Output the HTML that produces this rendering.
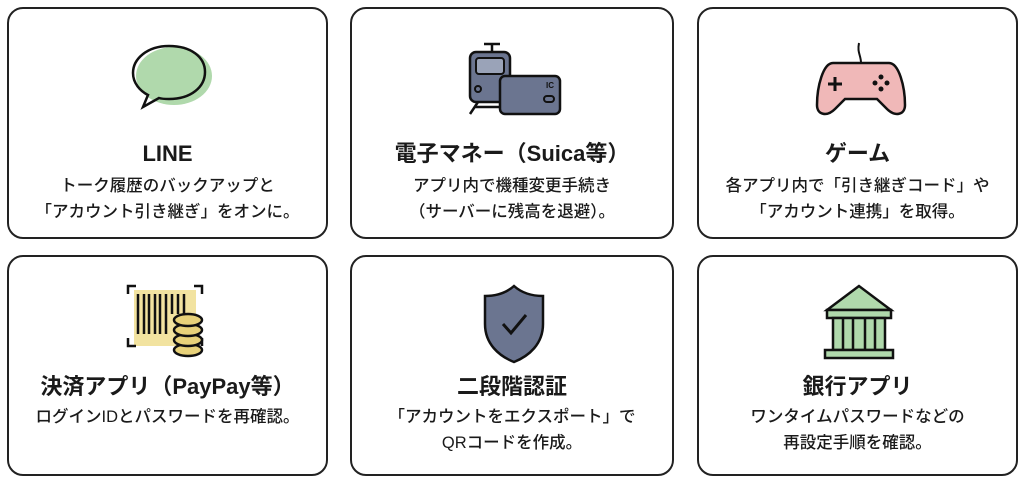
<!DOCTYPE html>
<html><head><meta charset="utf-8"><style>
body{margin:0;width:1024px;height:485px;background:#fff;position:relative;overflow:hidden;font-family:"Liberation Sans","Noto Sans CJK JP",sans-serif;color:#1a1a1a}
.c{position:absolute;border:2px solid #222;border-radius:16px;box-sizing:border-box;background:#fff}
.t{position:absolute;width:100%;text-align:center;font-weight:bold;font-size:22px;line-height:24px}
.d{position:absolute;width:100%;text-align:center;font-size:16.5px;line-height:26px;font-weight:500}
svg{position:absolute}
</style></head><body>
<div class="c" style="left:7px;top:7px;width:321px;height:232px">
<svg style="left:116px;top:30px" width="94" height="85" viewBox="0 0 90 85"><ellipse cx="47" cy="37" rx="38" ry="29" fill="#b0d9ac"/><path d="M42 7C20 7 6 20 6 34c0 10 7 18 15 22l-5 12 16-9c3 1 7 1 10 1 22 0 36-12 36-27S64 7 42 7z" fill="none" stroke="#111" stroke-width="2.5"/></svg>
<div class="t" style="top:133px">LINE</div>
<div class="d" style="top:164px">トーク履歴のバックアップと<br>「アカウント引き継ぎ」をオンに。</div></div>
<div class="c" style="left:350px;top:7px;width:324px;height:232px">
<svg style="left:112px;top:32px" width="100" height="80" viewBox="0 0 100 80"><path d="M20 3h16M28 3v8" stroke="#111" stroke-width="2.5"/><rect x="6" y="11" width="40" height="50" rx="6" fill="#6b7590" stroke="#111" stroke-width="2.5"/><rect x="12" y="17" width="28" height="16" rx="3" fill="#9aa3b8" stroke="#111" stroke-width="2"/><circle cx="14" cy="48" r="3" fill="none" stroke="#111" stroke-width="2"/><path d="M14 61l-8 12M38 61l8 12M10 66h30" stroke="#111" stroke-width="2.5"/><rect x="36" y="35" width="60" height="38" rx="5" fill="#6b7590" stroke="#111" stroke-width="2.5"/><text x="82" y="47" font-size="8" font-weight="bold" fill="#111" font-family="Liberation Sans">IC</text><rect x="80" y="55" width="10" height="6" rx="3" fill="none" stroke="#111" stroke-width="2"/></svg>
<div class="t" style="top:133px">電子マネー（Suica等）</div>
<div class="d" style="top:164px">アプリ内で機種変更手続き<br>（サーバーに残高を退避）。</div></div>
<div class="c" style="left:697px;top:7px;width:321px;height:232px">
<svg style="left:112px;top:32px" width="100" height="80" viewBox="0 0 100 80"><path d="M50 22c0-8-4-10-2-20" fill="none" stroke="#111" stroke-width="2"/><path d="M22 22h56c10 0 16 24 16 42 0 10-10 12-18 4l-10-10H34L24 68c-8 8-18 6-18-4 0-18 6-42 16-42z" fill="#f0b8b8" stroke="#111" stroke-width="2.5"/><path d="M24 36v14M17 43h14" stroke="#111" stroke-width="3"/><circle cx="70" cy="36" r="2.5" fill="#111"/><circle cx="70" cy="48" r="2.5" fill="#111"/><circle cx="64" cy="42" r="2.5" fill="#111"/><circle cx="76" cy="42" r="2.5" fill="#111"/></svg>
<div class="t" style="top:133px">ゲーム</div>
<div class="d" style="top:164px">各アプリ内で「引き継ぎコード」や<br>「アカウント連携」を取得。</div></div>
<div class="c" style="left:7px;top:255px;width:321px;height:221px">
<svg style="left:115px;top:25px" width="90" height="80" viewBox="0 0 90 80"><rect x="10" y="8" width="62" height="56" fill="#f2e3a0"/><path d="M4 12V4h8M70 4h8v8M4 56v8h8M78 56v8" fill="none" stroke="#111" stroke-width="2.5"/><g stroke="#111" stroke-width="2.5"><path d="M14 12v40M20 12v40M25 12v40M31 12v40M36 12v40M42 12v40M48 12v20M54 12v20M60 12v20"/></g><g fill="#e8d27a" stroke="#111" stroke-width="2.5"><ellipse cx="64" cy="68" rx="14" ry="6"/><ellipse cx="64" cy="58" rx="14" ry="6"/><ellipse cx="64" cy="48" rx="14" ry="6"/><ellipse cx="64" cy="38" rx="14" ry="6"/></g></svg>
<div class="t" style="top:118px">決済アプリ（PayPay等）</div>
<div class="d" style="top:147px">ログインIDとパスワードを再確認。</div></div>
<div class="c" style="left:350px;top:255px;width:324px;height:221px">
<svg style="left:125px;top:25px" width="75" height="85" viewBox="0 0 75 85"><path d="M37 4C28 12 18 14 8 14v28c0 20 14 32 29 38 15-6 29-18 29-38V14C56 14 46 12 37 4z" fill="#6b7590" stroke="#111" stroke-width="2.5"/><path d="M26 42l8 9 15-18" fill="none" stroke="#111" stroke-width="3"/></svg>
<div class="t" style="top:118px">二段階認証</div>
<div class="d" style="top:147px">「アカウントをエクスポート」で<br>QRコードを作成。</div></div>
<div class="c" style="left:697px;top:255px;width:321px;height:221px">
<svg style="left:120px;top:25px" width="80" height="85" viewBox="0 0 80 85"><path d="M40 4L8 28h64z" fill="#b0d9ac" stroke="#111" stroke-width="2.5"/><rect x="8" y="28" width="64" height="8" fill="#b0d9ac" stroke="#111" stroke-width="2.5"/><rect x="14" y="36" width="52" height="32" fill="#b0d9ac" stroke="#111" stroke-width="2.5"/><path d="M24 36v32M34 36v32M46 36v32M56 36v32" stroke="#111" stroke-width="2.5"/><rect x="6" y="68" width="68" height="8" fill="#b0d9ac" stroke="#111" stroke-width="2.5"/></svg>
<div class="t" style="top:118px">銀行アプリ</div>
<div class="d" style="top:147px">ワンタイムパスワードなどの<br>再設定手順を確認。</div></div>
</body></html>
